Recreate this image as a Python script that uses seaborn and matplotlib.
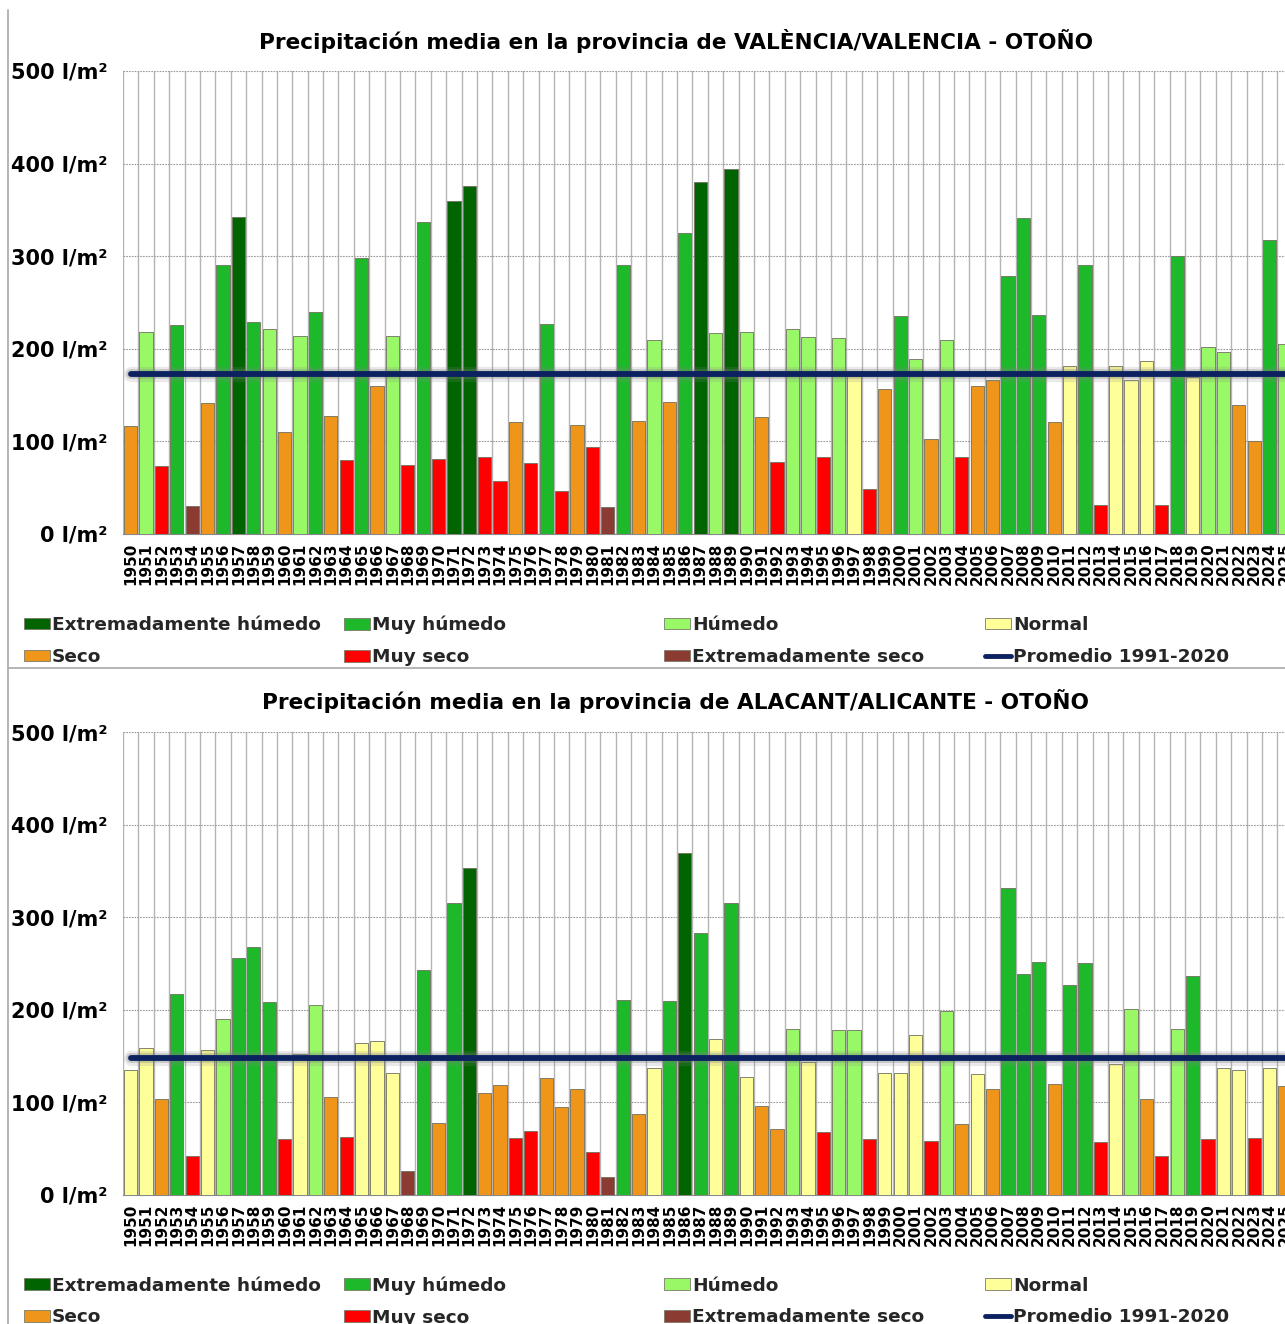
import numpy as np
import pandas as pd
import matplotlib
matplotlib.use("Agg")
import matplotlib.pyplot as plt
import matplotlib.patheffects as pe
from matplotlib.patches import Patch
from matplotlib.lines import Line2D
import seaborn as sns

sns.set_theme(style="white")
plt.rcParams['font.family'] = ['DejaVu Sans']
plt.rcParams['font.weight'] = 'bold'

years = list(range(1950, 2026))

valencia_values = [117, 218, 73, 226, 30, 141, 291, 342, 229, 221,
                   110, 214, 240, 127, 80, 298, 160, 214, 74, 337,
                   81, 360, 376, 83, 57, 121, 77, 227, 46, 118,
                   94, 29, 290, 122, 210, 143, 325, 380, 217, 394,
                   218, 126, 78, 221, 213, 83, 212, 171, 49, 157,
                   235, 189, 103, 210, 83, 160, 166, 279, 341, 237,
                   121, 181, 291, 31, 181, 166, 187, 31, 300, 170,
                   202, 197, 139, 100, 317, 205]
valencia_class = ['S', 'H', 'MS', 'MH', 'ES', 'S', 'MH', 'EH', 'MH', 'H',
                  'S', 'H', 'MH', 'S', 'MS', 'MH', 'S', 'H', 'MS', 'MH',
                  'MS', 'EH', 'EH', 'MS', 'MS', 'S', 'MS', 'MH', 'MS', 'S',
                  'MS', 'ES', 'MH', 'S', 'H', 'S', 'MH', 'EH', 'H', 'EH',
                  'H', 'S', 'MS', 'H', 'H', 'MS', 'H', 'N', 'MS', 'S',
                  'MH', 'H', 'S', 'H', 'MS', 'S', 'S', 'MH', 'MH', 'MH',
                  'S', 'N', 'MH', 'MS', 'N', 'N', 'N', 'MS', 'MH', 'N',
                  'H', 'H', 'S', 'S', 'MH', 'H']
valencia_avg = 173

alicante_values = [135, 159, 104, 217, 42, 157, 190, 256, 268, 208,
                   60, 152, 205, 106, 63, 164, 166, 132, 26, 243,
                   78, 315, 353, 110, 119, 62, 69, 126, 95, 114,
                   46, 19, 211, 87, 137, 209, 369, 283, 169, 315,
                   127, 96, 71, 179, 144, 68, 178, 178, 60, 132,
                   132, 173, 58, 199, 77, 131, 115, 331, 239, 252,
                   120, 227, 251, 57, 142, 201, 104, 42, 179, 237,
                   60, 137, 135, 62, 137, 118]
alicante_class = ['N', 'N', 'S', 'MH', 'MS', 'N', 'H', 'MH', 'MH', 'MH',
                  'MS', 'N', 'H', 'S', 'MS', 'N', 'N', 'N', 'ES', 'MH',
                  'S', 'MH', 'EH', 'S', 'S', 'MS', 'MS', 'S', 'S', 'S',
                  'MS', 'ES', 'MH', 'S', 'N', 'MH', 'EH', 'MH', 'N', 'MH',
                  'N', 'S', 'S', 'H', 'N', 'MS', 'H', 'H', 'MS', 'N',
                  'N', 'N', 'MS', 'H', 'S', 'N', 'S', 'MH', 'MH', 'MH',
                  'S', 'MH', 'MH', 'MS', 'N', 'H', 'S', 'MS', 'H', 'MH',
                  'MS', 'N', 'N', 'MS', 'N', 'S']
alicante_avg = 148

class_codes = ['EH', 'MH', 'H', 'N', 'S', 'MS', 'ES']
class_names = ['Extremadamente húmedo', 'Muy húmedo', 'Húmedo', 'Normal',
               'Seco', 'Muy seco', 'Extremadamente seco']
class_colors = ['#006400', '#1db92b', '#98f866', '#ffff99',
                '#ef951a', '#ff0000', '#8b3b31']
avg_label = 'Promedio 1991-2020'
avg_color = '#0b2160'

titles = ['Precipitación media en la provincia de VALÈNCIA/VALENCIA - OTOÑO',
          'Precipitación media en la provincia de ALACANT/ALICANTE - OTOÑO']
yticks = [0, 100, 200, 300, 400, 500]
ytick_labels = ['0 l/m²', '100 l/m²', '200 l/m²', '300 l/m²', '400 l/m²', '500 l/m²']

palette = dict(zip(class_codes, class_colors))

W, H = 1285, 1324
fig = plt.figure(figsize=(W / 100, H / 100), dpi=100)

panels = [
    (valencia_values, valencia_class, valencia_avg, titles[0], 71, 534, 41, 626, 656),
    (alicante_values, alicante_class, alicante_avg, titles[1], 732, 1195, 701, 1287, 1316),
]

grid_col = '#b4b4b4'
for vals, cls, avg, title, ytop, ybot, ytitle, yleg1, yleg2 in panels:
    left = 123 / W
    ax = fig.add_axes([left, 1 - ybot / H, 1 - left, (ybot - ytop) / H])
    df = pd.DataFrame({'year': [str(y) for y in years], 'value': vals, 'cls': cls})
    sns.barplot(data=df, x='year', y='value', hue='cls', hue_order=class_codes,
                palette=palette, dodge=False, width=0.86, legend=False, saturation=1,
                edgecolor='#707060', linewidth=0.6, ax=ax, zorder=3)
    xs = np.arange(len(years))
    ax.plot(xs, [avg] * len(years), color=avg_color, lw=4.2, solid_capstyle='round', zorder=5,
            path_effects=[pe.Stroke(linewidth=11, foreground='#888888', alpha=0.18),
                          pe.Stroke(linewidth=7, foreground='#777777', alpha=0.3),
                          pe.Normal()])
    ax.set_xlim(-0.5, 74.95)
    ax.set_ylim(0, 500)
    ax.set_yticks(yticks)
    ax.set_yticklabels(ytick_labels, fontsize=15, fontweight='bold', color='black')
    ax.set_xticks(xs)
    ax.set_xticklabels([str(y) for y in years], rotation=90, fontsize=11,
                       fontweight='bold', color='black')
    ax.tick_params(axis='x', which='major', length=0, pad=6)
    ax.set_xticks(xs - 0.5, minor=True)
    ax.tick_params(axis='x', which='minor', length=5, color=grid_col, width=0.8)
    ax.tick_params(axis='y', length=5, color='#888888', width=0.8, pad=6)
    ax.grid(axis='x', which='minor', color=grid_col, lw=1.0, ls='-', zorder=0)
    ax.grid(axis='y', which='major', color='#9a9a9a', lw=0.8, ls=(0, (1.5, 1.0)), zorder=0)
    ax.grid(axis='x', which='major', visible=False)
    ax.set_xlabel('')
    ax.set_ylabel('')
    for s in ['top', 'right', 'left']:
        ax.spines[s].set_visible(False)
    ax.spines['bottom'].set_color('#888888')
    ax.spines['bottom'].set_linewidth(0.8)
    ax.set_axisbelow(True)

    fig.text(676 / W, 1 - ytitle / H, title, ha='center', va='center',
             fontsize=15.6, fontweight='bold', color='black')

    handles = [Patch(facecolor=c, edgecolor='#7a7a6a', linewidth=0.6) for c in class_colors]
    line_handle = Line2D([0], [0], color=avg_color, lw=3.5)
    cols = [
        ([handles[0], handles[4]], [class_names[0], class_names[4]], 24),
        ([handles[1], handles[5]], [class_names[1], class_names[5]], 344),
        ([handles[2], handles[6]], [class_names[2], class_names[6]], 664),
        ([handles[3], line_handle], [class_names[3], avg_label], 985),
    ]
    for hs, ls, xpix in cols:
        fig.legend(hs, ls, loc='center left',
                   bbox_to_anchor=(xpix / W, 1 - (yleg1 + yleg2) / 2 / H),
                   frameon=False, ncol=1, handlelength=1.4, handleheight=0.6,
                   handletextpad=0.12, borderaxespad=0, borderpad=0,
                   labelspacing=0.75, prop={'size': 13.3, 'weight': 'bold'})

# panel borders
fig.add_artist(Line2D([8 / W, 8 / W], [0, 1 - 10 / H], color='#a8a8a8', lw=1.2))
fig.add_artist(Line2D([8 / W, 1], [1 - 668 / H, 1 - 668 / H], color='#a8a8a8', lw=1.2))

fig.savefig('out.png', dpi=100)
